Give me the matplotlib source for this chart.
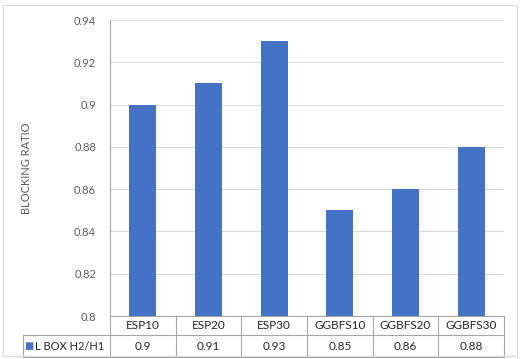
import matplotlib.pyplot as plt
import matplotlib.transforms as mtransforms
from matplotlib.patches import Rectangle
from matplotlib.ticker import FuncFormatter

# chart data
categories = ["ESP10", "ESP20", "ESP30", "GGBFS10", "GGBFS20", "GGBFS30"]
ratios = [0.9, 0.91, 0.93, 0.85, 0.86, 0.88]
series_name = "L BOX H2/H1"
y_ticks = [0.8, 0.82, 0.84, 0.86, 0.88, 0.9, 0.92, 0.94]

W, H = 520, 359
blue = "#4472C4"
grey_text = "#595959"
line_grey = "#a6a6a6"

plt.rcParams["font.family"] = ["Lato", "DejaVu Sans"]

fig = plt.figure(figsize=(W / 100, H / 100), dpi=100)

# light frame around the whole chart
fig.patches.append(Rectangle((3 / W, 3 / H), 514 / W, 351 / H, transform=fig.transFigure,
                             fill=False, edgecolor="#d9d9d9", linewidth=0.8))

ax_h = 296
ax = fig.add_axes([110 / W, (H - 316) / H, 394 / W, ax_h / H])

x = list(range(len(categories)))
ax.bar(x, ratios, width=0.41, color=blue, zorder=3)
ax.set_xlim(-0.5, len(categories) - 0.5)
ax.set_ylim(0.8, 0.94)
ax.set_yticks(y_ticks)
ax.yaxis.set_major_formatter(FuncFormatter(lambda v, p: "{:g}".format(round(v, 2))))
ax.set_xticks([])
ax.tick_params(axis="y", length=0, labelsize=8, labelcolor=grey_text, pad=10)
ax.grid(axis="y", color="#d9d9d9", linewidth=0.8, zorder=0)
for side in ["top", "right", "bottom"]:
    ax.spines[side].set_visible(False)
ax.spines["left"].set_color(line_grey)
ax.spines["left"].set_linewidth(0.8)

ax.set_ylabel("BLOCKING RATIO", fontsize=8, color=grey_text, labelpad=30)

# data table under the plot, x in data units, y in axes units
trans = mtransforms.blended_transform_factory(ax.transData, ax.transAxes)
y_top = 0.0
y_mid = -19 / ax_h
y_bot = -41 / ax_h
x_left = -0.5 - 87 / 394 * len(categories)
x_right = len(categories) - 0.5
kw = dict(transform=trans, clip_on=False, color=line_grey, linewidth=0.8)

ax.plot([-0.5, x_right], [y_top, y_top], **kw)
ax.plot([x_left, x_right], [y_mid, y_mid], **kw)
ax.plot([x_left, x_right], [y_bot, y_bot], **kw)
ax.plot([x_left, x_left], [y_mid, y_bot], **kw)
for i in range(len(categories) + 1):
    ax.plot([i - 0.5, i - 0.5], [y_top, y_bot], **kw)

for i, (cat, v) in enumerate(zip(categories, ratios)):
    ax.text(i, (y_top + y_mid) / 2, cat, transform=trans, ha="center", va="center",
            fontsize=8.5, color="#262626")
    ax.text(i, (y_mid + y_bot) / 2, "{:g}".format(v), transform=trans, ha="center",
            va="center", fontsize=8.5, color="#262626")

ax.text(x_left + 0.02, (y_mid + y_bot) / 2, "■", transform=trans, ha="left", va="center",
        fontsize=7, color=blue)
ax.text(x_left + 0.19, (y_mid + y_bot) / 2, series_name, transform=trans, ha="left",
        va="center", fontsize=8, color="#262626")

fig.savefig("out.png", dpi=100)
